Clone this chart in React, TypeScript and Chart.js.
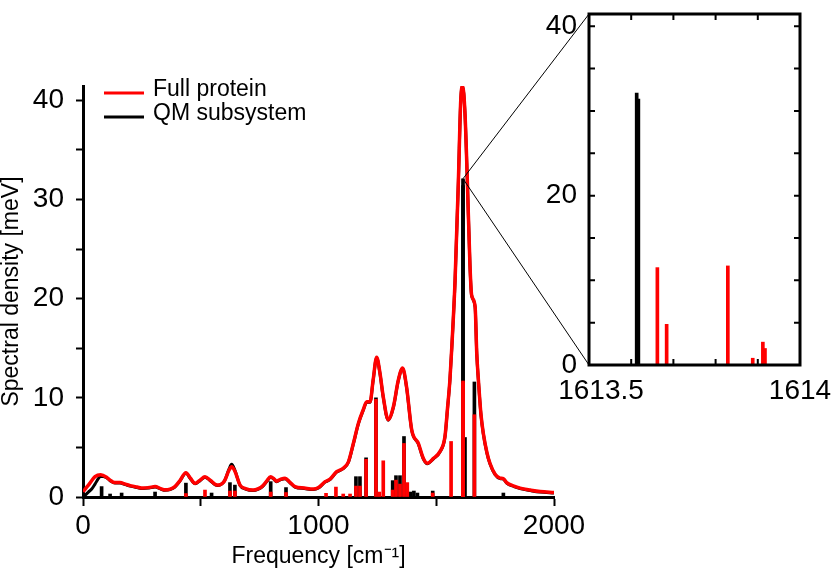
import React, { useEffect, useRef } from 'react';
import { Chart, registerables } from 'chart.js';

Chart.register(...registerables);

const FONT = "'Liberation Sans', Arial, Helvetica, sans-serif";

// Broadened spectral density, full protein [cm^-1] / [meV]
const fullFreq = [0, 23, 51, 75, 100, 115, 135, 157, 180, 200, 230, 255, 280, 306, 330, 348, 370, 390, 410, 437, 456, 476, 497, 518, 540, 570, 600, 620, 631, 645, 667, 690, 722, 745, 762, 780, 797, 810, 822, 840, 858, 878, 900, 940, 978, 1000, 1028, 1049, 1077, 1105, 1127, 1148, 1169, 1190, 1205, 1219, 1232, 1247, 1261, 1275, 1296, 1318, 1339, 1357, 1374, 1396, 1424, 1445, 1462, 1488, 1516, 1537, 1548, 1558, 1566, 1580, 1594, 1604, 1612, 1622, 1632, 1643, 1650, 1665, 1672, 1679, 1690, 1700, 1715, 1728, 1750, 1771, 1785, 1799, 1830, 1856, 1900, 1941, 2000];
const fullDensity = [0.53, 1.2, 2.05, 2.25, 2.0, 1.7, 1.45, 1.45, 1.3, 1.15, 1.0, 0.9, 0.95, 1.05, 0.85, 0.72, 0.8, 1.05, 1.6, 2.45, 1.9, 1.38, 1.7, 2.05, 1.7, 1.2, 1.6, 2.7, 3.05, 2.6, 1.2, 0.85, 0.7, 0.85, 1.1, 1.6, 2.05, 1.85, 1.6, 1.8, 1.9, 1.5, 1.05, 0.9, 0.8, 0.95, 1.55, 1.8, 2.55, 2.9, 3.55, 5.4, 7.4, 8.8, 9.6, 9.6, 11.8, 14.1, 12.5, 10.1, 7.8, 9.1, 11.8, 13.0, 11.1, 6.75, 5.4, 3.9, 3.4, 3.9, 4.6, 6.1, 9.0, 11.8, 15.1, 21.9, 31.9, 40.0, 41.45, 38.7, 31.9, 23.5, 20.4, 19.2, 14.5, 11.8, 8.3, 6.4, 4.5, 3.4, 2.3, 1.9, 1.85, 1.45, 1.1, 0.9, 0.7, 0.55, 0.45];

// Broadened spectral density, QM subsystem
const qmFreq = [0, 10, 23, 37, 51, 65, 75, 100, 115, 135, 157, 180, 200, 230, 255, 280, 306, 330, 348, 370, 390, 410, 437, 456, 476, 497, 518, 540, 570, 600, 620, 631, 645, 667, 690, 722, 745, 762, 780, 797, 810, 822, 840, 858, 878, 900, 940, 978, 1000, 1028, 1049, 1077, 1105, 1127, 1148, 1169, 1190, 1205, 1219, 1232, 1247, 1261, 1275, 1296, 1318, 1339, 1357, 1374, 1396, 1424, 1445, 1462, 1488, 1516, 1537, 1548, 1558, 1566, 1580, 1594, 1604, 1612, 1622, 1632, 1643, 1650, 1665, 1672, 1679, 1690, 1700, 1715, 1728, 1750, 1771, 1785, 1799, 1830, 1856, 1900, 1941, 2000];
const qmDensity = [0.0, 0.2, 0.5, 0.8, 1.3, 1.85, 2.1, 1.95, 1.65, 1.4, 1.4, 1.25, 1.1, 0.95, 0.85, 0.9, 1.0, 0.8, 0.68, 0.75, 1.0, 1.55, 2.4, 1.85, 1.33, 1.65, 2.0, 1.65, 1.15, 1.6, 2.8, 3.3, 2.7, 1.15, 0.8, 0.65, 0.8, 1.05, 1.55, 2.0, 1.8, 1.55, 1.75, 1.85, 1.45, 1.0, 0.85, 0.75, 0.9, 1.5, 1.75, 2.5, 2.85, 3.5, 5.35, 7.35, 8.75, 9.55, 9.55, 11.75, 14.05, 12.45, 10.05, 7.75, 9.05, 11.75, 12.95, 11.05, 6.7, 5.35, 3.85, 3.35, 3.85, 4.55, 6.05, 8.95, 11.75, 15.05, 21.85, 31.85, 39.95, 41.4, 38.65, 31.85, 23.45, 20.35, 19.15, 14.45, 11.75, 8.25, 6.35, 4.45, 3.35, 2.25, 1.85, 1.8, 1.4, 1.05, 0.85, 0.65, 0.5, 0.4];

// Stick spectra (main range, outside the zoomed window)
const fullStickFreq = [437, 518, 624, 645, 797, 862, 1032, 1074, 1105, 1134, 1159, 1176, 1202, 1244, 1258, 1275, 1315, 1329, 1346, 1363, 1377, 1485, 1563, 1662];
const fullStickHeight = [0.35, 0.7, 0.6, 0.6, 0.5, 0.45, 0.37, 1.0, 0.3, 0.3, 1.1, 1.1, 3.8, 9.85, 0.5, 3.65, 0.7, 1.7, 1.3, 5.4, 1.45, 0.4, 5.6, 8.3];
const qmStickFreq = [79, 115, 164, 306, 437, 546, 624, 645, 797, 862, 1159, 1176, 1202, 1244, 1315, 1329, 1346, 1363, 1390, 1405, 1420, 1485, 1622, 1662, 1785];
const qmStickHeight = [1.05, 0.3, 0.4, 0.5, 1.4, 0.4, 1.45, 1.2, 1.55, 0.95, 2.05, 2.05, 3.95, 10.0, 1.65, 2.15, 2.15, 6.1, 0.5, 0.6, 0.4, 0.6, 6.0, 11.6, 0.4];

// Sticks inside the zoomed window 1613.5 - 1614 cm^-1
const fullInsetFreq = [1613.662, 1613.684, 1613.829, 1613.888, 1613.912, 1613.917];
const fullInsetHeight = [11.5, 4.8, 11.7, 0.8, 2.7, 1.95];
const qmInsetFreq = [1613.613, 1613.617];
const qmInsetHeight = [32.1, 31.4];

const insetRange = [1613.5, 1614];
const insetTickLabels = ['1613.5', '1614'];
const yMax = 41.45;

const pts = (xs: number[], ys: number[]) => xs.map((x, i) => ({ x, y: ys[i] }));

const zeroPad = (s: any) => {
  s.paddingLeft = 0; s.paddingRight = 0; s.paddingTop = 0; s.paddingBottom = 0;
};

export default function App() {
  const mainRef = useRef<HTMLCanvasElement>(null);
  const insetRef = useRef<HTMLCanvasElement>(null);

  useEffect(() => {
    const tickFont = { family: FONT, size: 28 };
    const titleFont = { family: FONT, size: 23, lineHeight: 1 };
    const multipleOf = (v: number, m: number) => Math.abs(v / m - Math.round(v / m)) < 1e-6;

    const insetFrame = {
      id: 'insetFrame',
      afterDraw(chart: any) {
        const { ctx, chartArea: a, scales } = chart;
        const L = 6;
        ctx.save();
        ctx.strokeStyle = '#000';
        ctx.lineWidth = 2;
        ctx.beginPath();
        scales.x.ticks.forEach((t: any) => {
          const x = scales.x.getPixelForValue(t.value);
          ctx.moveTo(x, a.bottom); ctx.lineTo(x, a.bottom - L);
          ctx.moveTo(x, a.top); ctx.lineTo(x, a.top + L);
        });
        scales.y.ticks.forEach((t: any) => {
          const y = scales.y.getPixelForValue(t.value);
          ctx.moveTo(a.left, y); ctx.lineTo(a.left + L, y);
          ctx.moveTo(a.right, y); ctx.lineTo(a.right - L, y);
        });
        ctx.stroke();
        ctx.lineWidth = 3;
        ctx.strokeRect(a.left, a.top, a.right - a.left, a.bottom - a.top);
        // range labels under the inset frame
        ctx.fillStyle = '#000';
        ctx.font = `28px ${FONT}`;
        ctx.textBaseline = 'middle';
        ctx.textAlign = 'center';
        const ly = a.bottom + 26;
        ctx.fillText(insetTickLabels[0], scales.x.getPixelForValue(insetRange[0]) + 12, ly);
        ctx.fillText(insetTickLabels[1], scales.x.getPixelForValue(insetRange[1]), ly);
        ctx.restore();
      },
    };

    const inset = new Chart(insetRef.current as HTMLCanvasElement, {
      type: 'line',
      data: {
        datasets: [
          { type: 'bar', label: 'Full protein', data: pts(fullInsetFreq, fullInsetHeight), backgroundColor: '#ff0000', borderWidth: 0, barThickness: 3, grouped: false, order: 1 } as any,
          { type: 'bar', label: 'QM subsystem', data: pts(qmInsetFreq, qmInsetHeight), backgroundColor: '#000000', borderWidth: 0, barThickness: 3, grouped: false, order: 2 } as any,
        ],
      },
      options: {
        animation: false,
        responsive: false,
        events: [],
        layout: { padding: { top: 14, right: 31, left: 0, bottom: 0 } },
        plugins: { legend: { display: false }, tooltip: { enabled: false } },
        scales: {
          x: {
            type: 'linear', min: insetRange[0], max: insetRange[1], offset: false,
            ticks: { stepSize: 0.1, autoSkip: false, maxRotation: 0, padding: 11, color: '#000', font: tickFont, callback: () => '' },
            grid: { display: false, drawTicks: false, offset: false },
            border: { display: false },
            afterFit: (s: any) => { s.height = 55; zeroPad(s); },
          },
          y: {
            type: 'linear', min: 0, max: yMax, stacked: false,
            ticks: {
              stepSize: 5, includeBounds: false, autoSkip: false, padding: 12, color: '#000', font: tickFont,
              callback: (v: any) => (multipleOf(v, 20) ? String(v) : ''),
            },
            afterBuildTicks: (s: any) => { s.ticks = s.ticks.filter((t: any) => multipleOf(t.value, 5)); },
            grid: { display: false, drawTicks: false },
            border: { display: false },
            afterFit: (s: any) => { s.width = 59; zeroPad(s); },
          },
        },
      } as any,
      plugins: [insetFrame],
    });

    const legendPlugin = {
      id: 'insideLegend',
      afterDraw(chart: any) {
        const { ctx, chartArea } = chart;
        const items = chart.data.datasets.filter((d: any) => d.type === 'line');
        ctx.save();
        ctx.font = `23px ${FONT}`;
        ctx.textBaseline = 'middle';
        ctx.textAlign = 'left';
        items.forEach((d: any, i: number) => {
          const y = chartArea.top + 7 + i * 24;
          ctx.strokeStyle = d.borderColor;
          ctx.lineWidth = 3;
          ctx.beginPath();
          ctx.moveTo(chartArea.left + 21, y);
          ctx.lineTo(chartArea.left + 61, y);
          ctx.stroke();
          ctx.fillStyle = '#000';
          ctx.fillText(d.label, chartArea.left + 70, y - 3);
        });
        ctx.restore();
      },
    };

    // vertex of the zoom lines: the tallest stick inside the zoomed window
    let vi = 0;
    qmInsetHeight.forEach((h, i) => { if (h > qmInsetHeight[vi]) vi = i; });
    const vertex = { x: qmInsetFreq[vi], y: qmInsetHeight[vi] };

    const zoomLines = {
      id: 'zoomLines',
      afterDraw(chart: any) {
        const { ctx, scales } = chart;
        const mr = chart.canvas.getBoundingClientRect();
        const ir = inset.canvas.getBoundingClientRect();
        const dx = ir.left - mr.left;
        const dy = ir.top - mr.top;
        const a = inset.chartArea;
        const px = scales.x.getPixelForValue(vertex.x);
        const py = scales.y.getPixelForValue(vertex.y);
        ctx.save();
        ctx.strokeStyle = '#000';
        ctx.lineWidth = 1;
        ctx.beginPath();
        ctx.moveTo(px, py); ctx.lineTo(dx + a.left, dy + a.top);
        ctx.moveTo(px, py); ctx.lineTo(dx + a.left, dy + a.bottom);
        ctx.stroke();
        ctx.restore();
      },
    };

    const main = new Chart(mainRef.current as HTMLCanvasElement, {
      type: 'line',
      data: {
        datasets: [
          { type: 'line', label: 'Full protein', data: pts(fullFreq, fullDensity), borderColor: '#ff0000', borderWidth: 3.5, pointRadius: 0, fill: false, cubicInterpolationMode: 'monotone', order: 0 } as any,
          { type: 'line', label: 'QM subsystem', data: pts(qmFreq, qmDensity), borderColor: '#000000', borderWidth: 3, pointRadius: 0, fill: false, cubicInterpolationMode: 'monotone', order: 1 } as any,
          { type: 'bar', label: 'Full protein sticks', data: pts(fullStickFreq.concat(fullInsetFreq), fullStickHeight.concat(fullInsetHeight)), backgroundColor: '#ff0000', borderWidth: 0, barThickness: 3, grouped: false, order: 2 } as any,
          { type: 'bar', label: 'QM subsystem sticks', data: pts(qmStickFreq.concat(qmInsetFreq), qmStickHeight.concat(qmInsetHeight)), backgroundColor: '#000000', borderWidth: 0, barThickness: 3, grouped: false, order: 3 } as any,
        ],
      },
      options: {
        animation: false,
        responsive: false,
        events: [],
        layout: { padding: { top: 86, right: 277, left: 0, bottom: 0 } },
        plugins: { legend: { display: false }, tooltip: { enabled: false } },
        scales: {
          x: {
            type: 'linear', min: 0, max: 2000, offset: false,
            ticks: {
              stepSize: 500, autoSkip: false, maxRotation: 0, padding: 3, color: '#000', font: tickFont,
              callback: (v: any) => (multipleOf(v, 1000) ? String(v) : ''),
            },
            grid: { display: true, drawOnChartArea: false, drawTicks: true, tickLength: 9, tickWidth: 2, tickColor: '#000', offset: false },
            border: { display: true, color: '#000', width: 3 },
            title: { display: true, text: 'Frequency [cm⁻¹]', color: '#000', font: titleFont, padding: { top: 0, bottom: 3 } },
            afterFit: (s: any) => { s.height = 74; zeroPad(s); },
          },
          y: {
            type: 'linear', min: 0, max: yMax, stacked: false,
            ticks: {
              stepSize: 5, includeBounds: false, autoSkip: false, padding: 12, color: '#000', font: tickFont,
              callback: (v: any) => (multipleOf(v, 10) ? String(v) : ''),
            },
            afterBuildTicks: (s: any) => { s.ticks = s.ticks.filter((t: any) => multipleOf(t.value, 5)); },
            grid: { display: true, drawOnChartArea: false, drawTicks: true, tickLength: 7, tickWidth: 2, tickColor: '#000' },
            border: { display: true, color: '#000', width: 3 },
            title: { display: true, text: 'Spectral density [meV]', color: '#000', font: titleFont, padding: { top: 0.5, bottom: 0 } },
            afterFit: (s: any) => { s.width = 83; zeroPad(s); },
          },
        },
      } as any,
      plugins: [legendPlugin, zoomLines],
    });

    return () => {
      main.destroy();
      inset.destroy();
    };
  }, []);

  return (
    <div style={{ position: 'fixed', left: 0, top: 0, width: 831, height: 571, background: '#ffffff' }}>
      <canvas ref={mainRef} width={831} height={571} style={{ position: 'absolute', left: 0, top: 0 }} />
      <canvas ref={insetRef} width={301} height={420} style={{ position: 'absolute', left: 530, top: 0 }} />
    </div>
  );
}
